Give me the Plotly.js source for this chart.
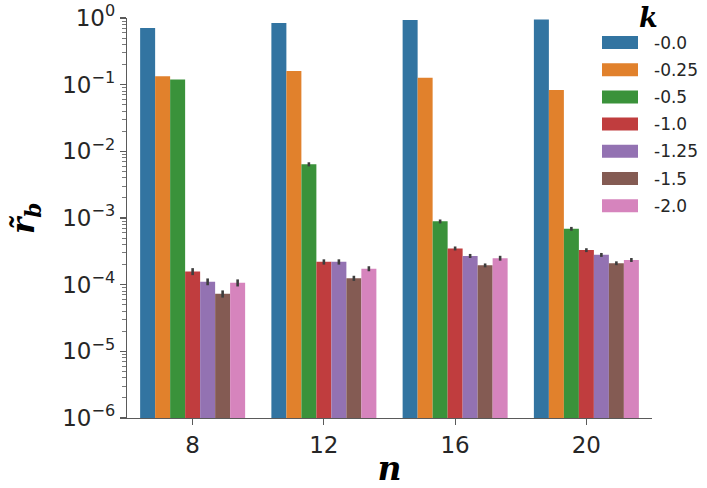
<!DOCTYPE html>
<html>
<head>
<meta charset="utf-8">
<script src="https://cdn.plot.ly/plotly-3.0.1.min.js"></script>
<style>
  html, body { margin: 0; padding: 0; background: #fff; }
  #chart { width: 707px; height: 488px; }
</style>
</head>
<body>
<div id="chart"></div>
<script>
'use strict'

// data
const nValues = ['8', '12', '16', '20'];
const kLabels = ['-0.0', '-0.25', '-0.5', '-1.0', '-1.25', '-1.5', '-2.0'];
const kColors = ['#3274a1', '#e1812c', '#3a923a', '#c03d3e', '#9372b2', '#845b53', '#d684bd'];

// one row per k, values for n = 8, 12, 16, 20
const rbValues = [
    [0.71, 0.84, 0.93, 0.95],
    [0.134, 0.16, 0.127, 0.083],
    [0.12, 6.4e-3, 8.9e-4, 6.9e-4],
    [1.58e-4, 2.2e-4, 3.5e-4, 3.3e-4],
    [1.11e-4, 2.2e-4, 2.7e-4, 2.8e-4],
    [7.3e-5, 1.25e-4, 1.95e-4, 2.1e-4],
    [1.07e-4, 1.74e-4, 2.5e-4, 2.35e-4]
];
const rbErrors = [
    [0, 0, 0, 0],
    [0, 0, 0, 0],
    [0, 4.5e-4, 6e-5, 4.5e-5],
    [1.9e-5, 2e-5, 2.4e-5, 2.2e-5],
    [1.3e-5, 2e-5, 1.9e-5, 1.9e-5],
    [0.9e-5, 1.1e-5, 1.3e-5, 1.4e-5],
    [1.3e-5, 1.5e-5, 2.1e-5, 1.6e-5]
];

const yTickVals = [1e-6, 1e-5, 1e-4, 1e-3, 1e-2, 1e-1, 1];
const yTickText = ['10<sup>−6</sup>', '10<sup>−5</sup>', '10<sup>−4</sup>', '10<sup>−3</sup>',
                   '10<sup>−2</sup>', '10<sup>−1</sup>', '10<sup>0</sup>'];

// minor log ticks 2..9 inside each decade
let yMinorVals = [];
for (let d = 0; d < yTickVals.length - 1; d++) {
    for (let m = 2; m <= 9; m++) yMinorVals.push(m * yTickVals[d]);
}

const textColor = '#262626';
const spineColor = '#5a5a5a';
const serifBold = {family: 'DejaVu Serif', weight: 'bold', style: 'italic', color: '#000'};

let traces = [];
for (let i = 0; i < kLabels.length; i++) {
    traces.push({
        type: 'bar',
        name: kLabels[i],
        x: nValues,
        y: rbValues[i],
        marker: {color: kColors[i], line: {width: 0}},
        error_y: {type: 'data', array: rbErrors[i], visible: true,
                  color: '#3d3d3d', thickness: 2.6, width: 0},
        showlegend: false
    });
}

// legend drawn by hand so the patches match the wide seaborn ones
const plotTop = 18, plotBottom = 418, plotLeft = 127, plotRight = 652;
const pw = plotRight - plotLeft, ph = plotBottom - plotTop;
let shapes = [], annotations = [];
for (let i = 0; i < kLabels.length; i++) {
    let cy = 42.5 + 27.2 * i;
    shapes.push({
        type: 'rect', xref: 'paper', yref: 'paper',
        x0: (602 - plotLeft) / pw, x1: (638 - plotLeft) / pw,
        y0: (plotBottom - cy - 6.5) / ph, y1: (plotBottom - cy + 6.5) / ph,
        fillcolor: kColors[i], line: {width: 0}
    });
    annotations.push({
        xref: 'paper', yref: 'paper', showarrow: false,
        x: (652 - plotLeft) / pw, y: (plotBottom - cy) / ph,
        xanchor: 'left', yanchor: 'middle',
        text: kLabels[i],
        font: {family: 'DejaVu Sans', size: 17, color: textColor}
    });
}
annotations.push({
    xref: 'paper', yref: 'paper', showarrow: false,
    x: (648 - plotLeft) / pw, y: (plotBottom - 17) / ph,
    xanchor: 'center', yanchor: 'middle',
    text: 'k',
    font: Object.assign({size: 27}, serifBold)
});
// y title as a rotated annotation so it sits where the reference has it
annotations.push({
    xref: 'paper', yref: 'paper', showarrow: false,
    x: (25 - plotLeft) / pw, y: 0.5,
    xanchor: 'center', yanchor: 'middle',
    textangle: -90,
    text: 'r̃<sub>b</sub>',
    font: Object.assign({size: 31}, serifBold)
});

let layout = {
    width: 707,
    height: 488,
    margin: {l: plotLeft, r: 707 - plotRight, t: plotTop, b: 488 - plotBottom},
    paper_bgcolor: '#fff',
    plot_bgcolor: '#fff',
    barmode: 'group',
    bargap: 0.2,
    bargroupgap: 0,
    font: {family: 'DejaVu Sans', color: textColor},
    xaxis: {
        type: 'category',
        range: [-0.5, 3.5],
        showline: true, linecolor: spineColor, linewidth: 1.2,
        ticks: 'outside', ticklen: 6, tickcolor: spineColor, tickwidth: 1.2,
        showgrid: false, zeroline: false,
        tickfont: {size: 23, color: textColor},
        title: {text: 'n', font: Object.assign({size: 33}, serifBold)}
    },
    yaxis: {
        type: 'log',
        range: [-6, 0],
        tickmode: 'array', tickvals: yTickVals, ticktext: yTickText,
        showline: true, linecolor: spineColor, linewidth: 1.2,
        ticks: 'outside', ticklen: 6, tickcolor: spineColor, tickwidth: 1.2,
        minor: {tickmode: 'array', tickvals: yMinorVals, ticks: 'outside', ticklen: 3.5,
                tickcolor: '#7a7a7a', tickwidth: 1, showgrid: false},
        showgrid: false, zeroline: false,
        tickfont: {size: 23, color: textColor}
    },
    shapes: shapes,
    annotations: annotations
};

Plotly.newPlot('chart', traces, layout, {displayModeBar: false, staticPlot: true});
</script>
</body>
</html>
